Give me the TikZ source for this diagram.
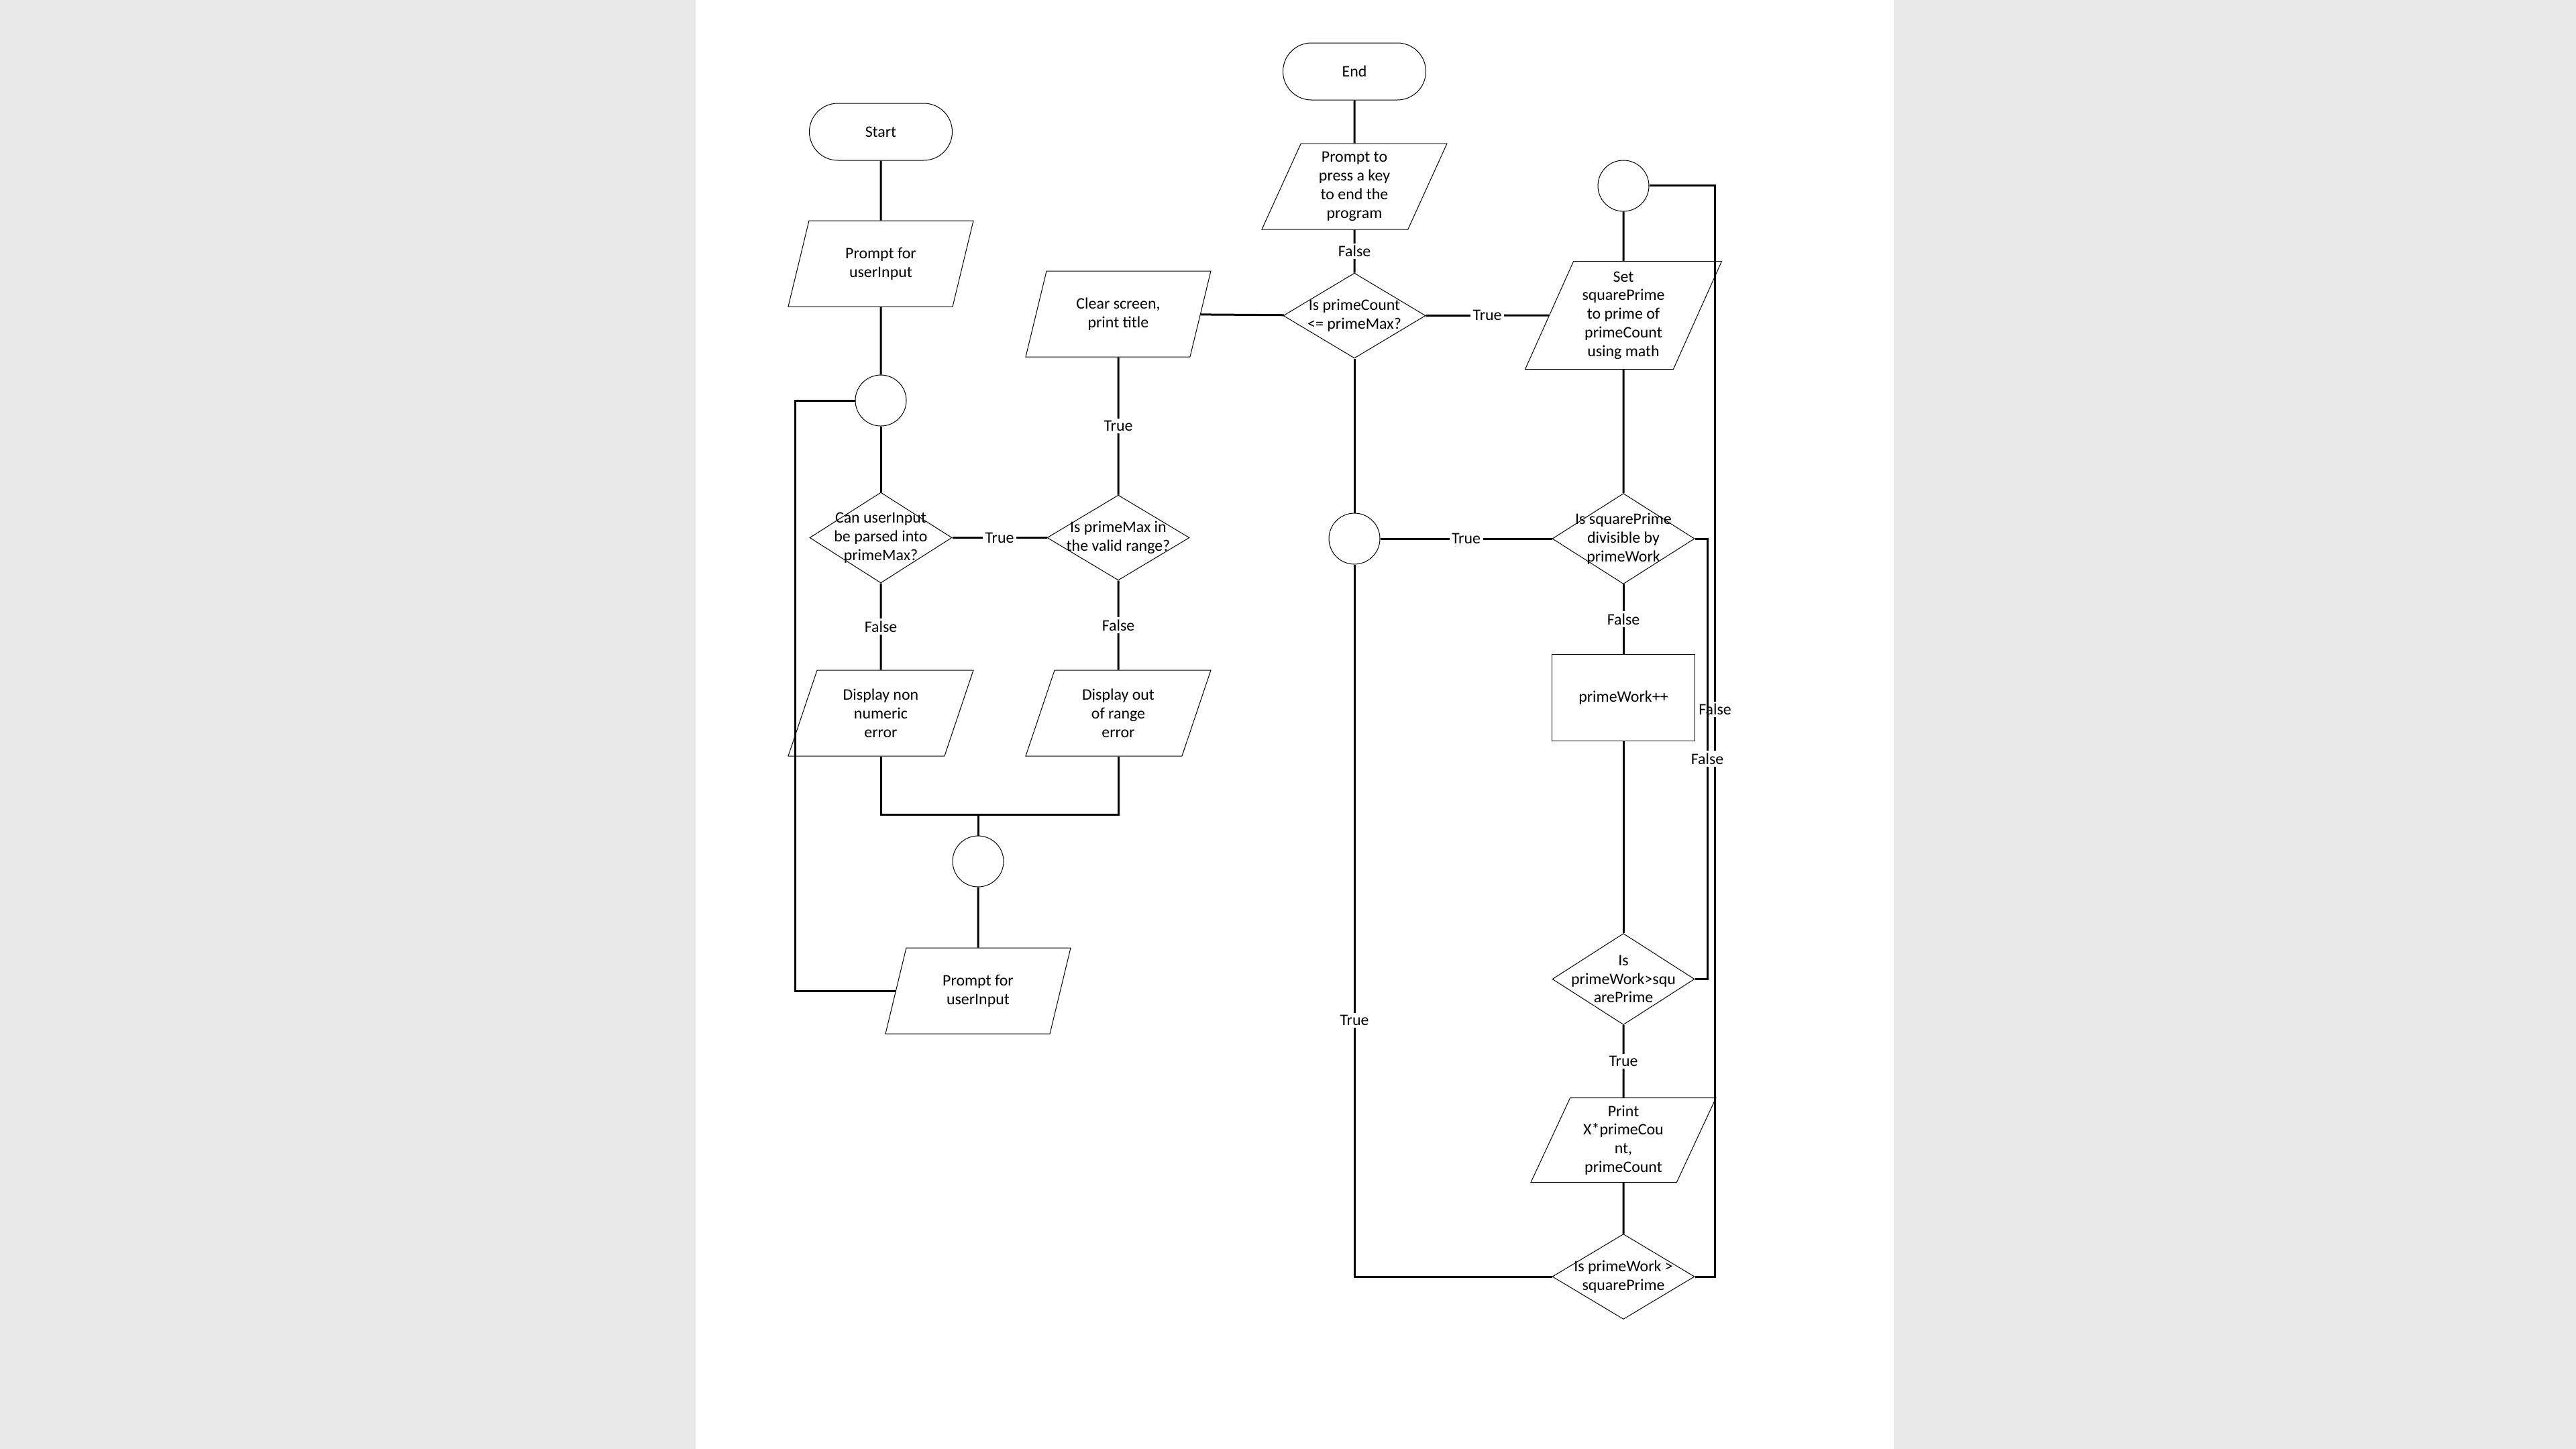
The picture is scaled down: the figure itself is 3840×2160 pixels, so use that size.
\documentclass[tikz,border=0pt]{standalone}
\usepackage{fontspec}
\setmainfont{Carlito}
\usetikzlibrary{shapes.geometric,positioning}
\definecolor{pagegray}{HTML}{E9E9E9}
\tikzset{
  box/.style={draw, line width=0.1mm, align=center, font=\fontsize{6.8}{7.9}\selectfont, inner sep=2pt},
  term/.style={box, rectangle, rounded corners=4.25mm, minimum width=21.3mm, minimum height=8.5mm},
  io/.style={box, trapezium, trapezium left angle=63.5, trapezium right angle=116.5, trapezium stretches body, minimum width=27.6mm, minimum height=12.8mm},
  proc/.style={box, rectangle, minimum width=21.3mm, minimum height=12.9mm},
  cond/.style={box, diamond, inner sep=0pt, minimum width=21.2mm, minimum height=12.7mm},
  qtext/.style={align=center, font=\fontsize{6.8}{7.9}\selectfont},
  joint/.style={box, circle, inner sep=0pt, minimum size=7.6mm},
  conn/.style={line width=0.3mm},
  lbl/.style={fill=white, inner sep=1pt, font=\fontsize{6.8}{7.9}\selectfont}
}

\begin{document}
\begin{tikzpicture}[x=0.1mm, y=-0.1mm]
\fill[pagegray] (0,0) rectangle (3840,2160);
\fill[white] (1037,0) rectangle (2823,2160);
\useasboundingbox (0,0) rectangle (3840,2160);

% reading and checking the input
\node[term] (start) at (1313,196.5) {Start};
\node[io, below=8.9mm of start] (ask) {Prompt for\\userInput};
\node[joint, below=10.1mm of ask] (j1) {};
\node[cond, minimum height=13.5mm, below=9.8mm of j1, label={[qtext]center:Can userInput\\be parsed into\\primeMax?}] (parse) {};
\node[io, below=12.9mm of parse] (nonnum) {Display non\\numeric\\error};
\node[cond, right=14.1mm of parse, label={[qtext]center:Is primeMax in\\the valid range?}] (range) {};
\node[io, above=20.5mm of range] (clear) {Clear screen,\\print title};
\node[io, below=13.3mm of range] (outrange) {Display out\\of range\\error};
\node[joint] (j2) at (1458,1284) {};
\node[io, below=9mm of j2] (ask2) {Prompt for\\userInput};

% prime loop
\node[term] (stop) at (2019,106.5) {End};
\node[io, below=6.4mm of stop] (askkey) {Prompt to\\press a key\\to end the\\program};
\node[cond, below=6.4mm of askkey, label={[qtext]center:Is primeCount\\<= primeMax?}] (count) {};
\node[joint, below=23mm of count] (j4) {};
\node[cond, minimum height=13.5mm, right=25.6mm of j4, label={[qtext]center:Is squarePrime\\divisible by\\primeWork}] (divis) {};
\node[io, minimum width=29.3mm, minimum height=16.1mm, above=18.4mm of divis] (setsq) {Set\\squarePrime\\to prime of\\primeCount\\using math};
\node[joint, above=7.35mm of setsq] (j3) {};
\node[proc, below=10.4mm of divis] (inc) {primeWork++};
\node[cond, minimum height=13.6mm, below=28.6mm of inc, label={[qtext]center:Is\\primeWork>squ\\arePrime}] (check) {};
\node[io, minimum height=12.6mm, below=10.8mm of check] (print) {Print\\X*primeCou\\nt,\\primeCount};
\node[cond, below=7.6mm of print, label={[qtext]center:Is primeWork >\\squarePrime}] (again) {};

\coordinate (merge) at (1458,1214);
\coordinate (rimL) at (1185,0);
\coordinate (rimR) at (2556.5,0);
\coordinate (rimI) at (2545,0);

\draw[conn] (start) -- (ask);
\draw[conn] (ask) -- (j1);
\draw[conn] (j1) -- (parse);
\draw[conn] (parse) -- node[lbl]{True} (range);
\draw[conn] (parse) -- node[lbl]{False} (nonnum);
\draw[conn] (range) -- node[lbl]{True} (clear);
\draw[conn] (range) -- node[lbl]{False} (outrange);
\draw[conn] (nonnum) |- (merge) -| (outrange);
\draw[conn] (merge) -- (j2);
\draw[conn] (j2) -- (ask2);
\draw[conn] (ask2) -| (rimL |- j1) -- (j1);

\draw[conn] (clear) -- (count);
\draw[conn] (stop) -- (askkey);
\draw[conn] (askkey) -- node[lbl]{False} (count);
\draw[conn] (count) -- node[lbl]{True} (setsq);
\draw[conn] (count) -- (j4);
\draw[conn] (j4) -- node[lbl]{True} (divis);
\draw[conn] (j3) -- (setsq);
\draw[conn] (setsq) -- (divis);
\draw[conn] (divis) -- node[lbl]{False} (inc);
\draw[conn] (inc) -- (check);
\draw[conn] (check) -- node[lbl]{True} (print);
\draw[conn] (print) -- (again);
\draw[conn] (j4) |- node[lbl, pos=0.32]{True} (again);
\draw[conn] (j3) -| node[lbl, pos=0.74]{False} (rimR |- again) -- (again);
\draw[conn] (divis) -| node[lbl, pos=0.75]{False} (rimI |- check) -- (check);
\end{tikzpicture}
\end{document}
